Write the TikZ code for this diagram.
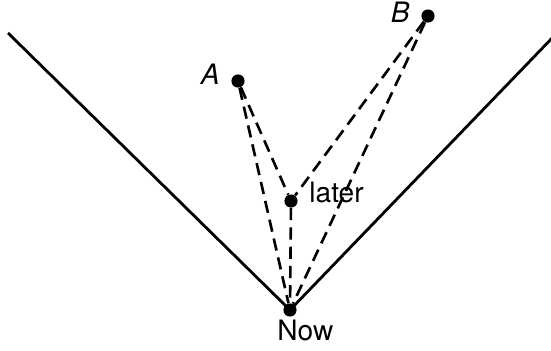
\documentclass[tikz,border=0pt]{standalone}
\usepackage{fontspec}
\setsansfont{TeX Gyre Heros}
\usetikzlibrary{arrows.meta,positioning}

\begin{document}
\begin{tikzpicture}[
    x=0.02cm, y=-0.02cm,
    every node/.style={font=\sffamily\fontsize{16}{18}\selectfont},
    event/.style={circle, fill=black, inner sep=0pt, minimum size=7.5pt},
    cone/.style={line width=1.6pt},
    signal/.style={line width=1.5pt, dash pattern=on 7pt off 4pt}
]
\useasboundingbox (0,0) rectangle (551,351);
\node[event] (now) at (290,310) {};
\node[event] (later) at (291,201) {};
\node[event] (evA) at (238,81) {};
\node[event] (evB) at (428,16) {};
\node[anchor=base west, inner sep=0pt] (nowlabel) at (277,340) {Now};
\node[right=3pt of later, yshift=5pt] (laterlabel) {later};
\node[left=3pt of evA, yshift=4pt] (labelA) {\textit{A}};
\node[left=3pt of evB, yshift=2pt] (labelB) {\textit{B}};
\coordinate (past) at (8,33);
\coordinate (future) at (556,34);
\draw[cone] (past) -- (now.center) -- (future);
\draw[signal] (evA) -- (now);
\draw[signal] (evA) -- (later);
\draw[signal] (later) -- (now);
\draw[signal] (evB) -- (later);
\draw[signal] (evB) -- (now);
\end{tikzpicture}
\end{document}
